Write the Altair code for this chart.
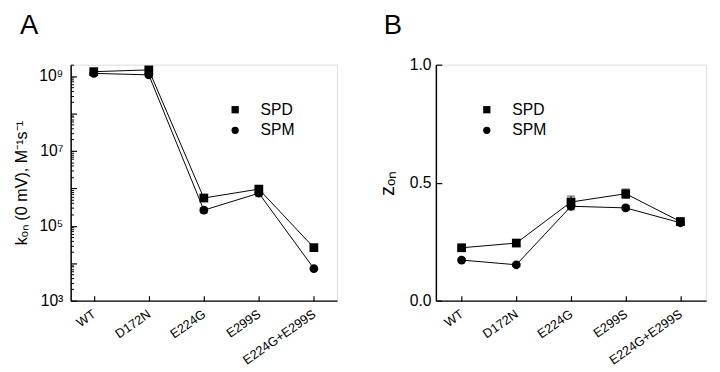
import altair as alt
import pandas as pd

FONT = "Liberation Sans, Arial, Helvetica, sans-serif"

mutants = ["WT", "D172N", "E224G", "E299S", "E224G+E299S"]
series_names = ["SPD", "SPM"]

# Panel A: k_on (0 mV), M^-1 s^-1  (log scale)
kon_spd = [1.3e9, 1.45e9, 5.5e5, 9.5e5, 2.6e4]
kon_spd_lo = [1.2e9, 1.3e9, 5.0e5, 8.5e5, 2.4e4]
kon_spd_hi = [1.4e9, 1.6e9, 6.0e5, 1.05e6, 2.8e4]
kon_spm = [1.17e9, 1.07e9, 2.6e5, 7.4e5, 7.2e3]
kon_spm_lo = [1.08e9, 0.97e9, 2.2e5, 6.2e5, 6.8e3]
kon_spm_hi = [1.26e9, 1.17e9, 3.0e5, 8.6e5, 7.6e3]

# Panel B: z_on
zon_spd = [0.224, 0.244, 0.418, 0.453, 0.335]
zon_spd_err = [0.010, 0.012, 0.025, 0.020, 0.015]
zon_spm = [0.172, 0.152, 0.400, 0.393, 0.330]
zon_spm_err = [0.006, 0.006, 0.015, 0.010, 0.008]

kon_major_ticks = [1e3, 1e4, 1e5, 1e6, 1e7, 1e8, 1e9]
kon_label_values = [1e3, 1e5, 1e7, 1e9]
kon_label_texts = ["10³", "10⁵", "10⁷", "10⁹"]
kon_minor_ticks = [m * 10 ** e for e in range(3, 9) for m in range(2, 10)] + [2e9]
zon_ticks = [0.0, 0.5, 1.0]

rows_a = []
for i, m in enumerate(mutants):
    rows_a.append(dict(mut=m, series="SPD", v=kon_spd[i], lo=kon_spd_lo[i], hi=kon_spd_hi[i]))
    rows_a.append(dict(mut=m, series="SPM", v=kon_spm[i], lo=kon_spm_lo[i], hi=kon_spm_hi[i]))
df_a = pd.DataFrame(rows_a)

rows_b = []
for i, m in enumerate(mutants):
    rows_b.append(dict(mut=m, series="SPD", v=zon_spd[i], lo=zon_spd[i] - zon_spd_err[i], hi=zon_spd[i] + zon_spd_err[i]))
    rows_b.append(dict(mut=m, series="SPM", v=zon_spm[i], lo=zon_spm[i] - zon_spm_err[i], hi=zon_spm[i] + zon_spm_err[i]))
df_b = pd.DataFrame(rows_b)

label_expr = " : ".join(
    f"datum.value == {int(v)} ? '{t}'" for v, t in zip(kon_label_values, kon_label_texts)
) + " : ''"


def panel(df, yscale, y_title, label_axis, major_axis, minor_axis, legend_x, title_text, width, pad, title_offset):
    xscale = alt.Scale(type="point", domain=mutants, padding=pad)
    x_main = alt.X("mut:N", scale=xscale, sort=mutants, axis=alt.Axis(
        orient="bottom", title=None, ticks=False, domain=True, domainColor="black", domainWidth=1.5,
        labelAngle=-35, labelAlign="right", labelBaseline="middle", labelPadding=12,
        labelFontSize=13, labelFont=FONT, labelColor="black", grid=False))
    x_ticks = alt.X("mut:N", scale=xscale, sort=mutants, axis=alt.Axis(
        orient="bottom", title=None, ticks=True, tickSize=5, tickColor="black", tickWidth=1.2,
        offset=-5, labels=False, domain=False, grid=False))
    x_none = alt.X("mut:N", scale=xscale, sort=mutants, axis=None)

    base = alt.Chart(df)
    lines = base.mark_line(color="black", strokeWidth=1).encode(
        x=x_ticks,
        y=alt.Y("v:Q", scale=yscale, axis=major_axis),
        detail="series:N",
    )
    err = base.mark_rule(color="black", strokeWidth=1).encode(
        x=x_none,
        y=alt.Y("lo:Q", scale=yscale, axis=minor_axis),
        y2="hi:Q",
    )
    cap_lo = base.mark_tick(color="black", size=8, thickness=1).encode(
        x=x_none, y=alt.Y("lo:Q", scale=yscale, axis=None))
    cap_hi = base.mark_tick(color="black", size=8, thickness=1).encode(
        x=x_none, y=alt.Y("hi:Q", scale=yscale, axis=None))
    pts = base.mark_point(filled=True, color="black", opacity=1, size=80).encode(
        x=x_main,
        y=alt.Y("v:Q", scale=yscale, axis=label_axis, title=y_title),
        shape=alt.Shape("series:N", scale=alt.Scale(domain=series_names, range=["square", "circle"]),
                        legend=alt.Legend(orient="none", legendX=legend_x, legendY=38, title=None,
                                          labelFontSize=16, labelFont=FONT, labelColor="black",
                                          symbolSize=55, symbolFillColor="black", symbolStrokeWidth=0,
                                          symbolOpacity=1, rowPadding=5, labelOffset=18, padding=0)),
    )
    layers = [lines, err, cap_lo, cap_hi, pts]
    ch = alt.layer(*layers).resolve_axis(x="independent", y="independent").properties(
        width=width, height=241,
        title=alt.TitleParams(title_text, anchor="start", fontSize=28, fontWeight="normal",
                              font=FONT, color="black", offset=title_offset, dx=6),
    )
    return ch


yscale_a = alt.Scale(type="log", domain=[1e3, 2e9], nice=False)
label_axis_a = alt.Axis(orient="left", values=kon_label_values, labelExpr=label_expr, ticks=False,
                        domain=True, domainColor="black", domainWidth=1.5, grid=False,
                        labelFontSize=16, labelFont=FONT, labelColor="black", labelPadding=8,
                        titleFontSize=16.5, titleFont=FONT, titleFontWeight="normal", titleColor="black",
                        titlePadding=9)
major_axis_a = alt.Axis(orient="left", values=kon_major_ticks, labels=False, domain=False, grid=False,
                        ticks=True, tickSize=6, offset=-6, tickColor="black", tickWidth=1.2, title=None)
minor_axis_a = alt.Axis(orient="left", values=kon_minor_ticks, labels=False, domain=False, grid=False,
                        ticks=True, tickSize=3, offset=-3, tickColor="black", tickWidth=1, title=None)

yscale_b = alt.Scale(domain=[0, 1], nice=False)
label_axis_b = alt.Axis(orient="left", values=zon_ticks, format=".1f", ticks=False,
                        domain=True, domainColor="black", domainWidth=1.5, grid=False,
                        labelFontSize=16, labelFont=FONT, labelColor="black", labelPadding=5,
                        titleFontSize=20, titleFont=FONT, titleFontWeight="normal", titleColor="black",
                        titlePadding=12)
major_axis_b = alt.Axis(orient="left", values=zon_ticks, labels=False, domain=False, grid=False,
                        ticks=True, tickSize=6, offset=-6, tickColor="black", tickWidth=1.2, title=None)
minor_axis_b = None

panel_a = panel(df_a, yscale_a, "kₒₙ (0 mV), M⁻¹s⁻¹", label_axis_a, major_axis_a, minor_axis_a,
                160, "A", 272, 0.42, 25)
panel_b = panel(df_b, yscale_b, "zₒₙ", label_axis_b, major_axis_b, minor_axis_b,
                44, "B", 276, 0.47, 17)

chart = alt.hconcat(panel_a, panel_b, spacing=40).resolve_scale(
    x="independent", y="independent", shape="independent"
).resolve_legend(shape="independent").properties(
    padding={"left": 5, "top": 0, "right": 5, "bottom": 0}
).configure_view(stroke=None).configure(background="white")

chart.save("out.html", embed_options={"renderer": "svg", "actions": False})
